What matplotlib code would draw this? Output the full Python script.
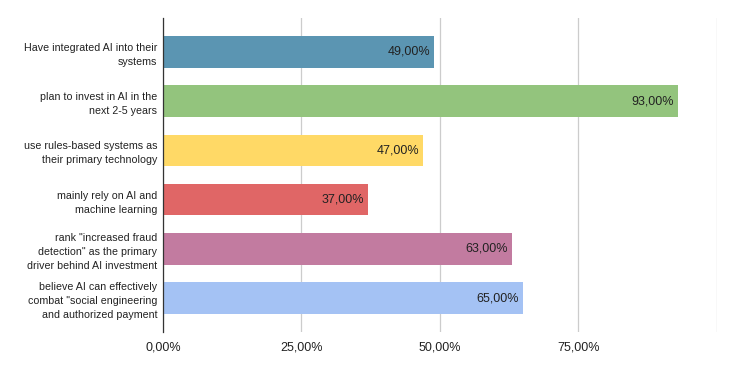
import matplotlib.pyplot as plt
from matplotlib.ticker import FixedLocator

plt.rcParams['font.family'] = ['Liberation Sans', 'DejaVu Sans']

# Survey results (percent of respondents)
categories = [
    'Have integrated AI into their\nsystems',
    'plan to invest in AI in the\nnext 2-5 years',
    'use rules-based systems as\ntheir primary technology',
    'mainly rely on AI and\nmachine learning',
    'rank "increased fraud\ndetection" as the primary\ndriver behind AI investment',
    'believe AI can effectively\ncombat "social engineering\nand authorized payment',
]
values = [49, 93, 47, 37, 63, 65]
colors = ['#5b95b2', '#93c47d', '#ffd966', '#e06666', '#c27ba0', '#a4c2f4']
tick_values = [0, 25, 50, 75, 100]
tick_labels = ['0,00%', '25,00%', '50,00%', '75,00%', '']

fig = plt.figure(figsize=(7.35, 3.71), dpi=100)
ax = fig.add_axes([163 / 735, 1 - 332 / 371, (716.5 - 163) / 735, (332 - 18) / 371])

y_pos = list(range(len(categories)))
ax.barh(y_pos, values, height=0.64, color=colors, zorder=3)

# value labels inside the bar ends
for y, v in zip(y_pos, values):
    ax.text(v - 0.7, y, f'{v},00%', ha='right', va='center',
            fontsize=9, color='#222222', zorder=4)

ax.set_xlim(0, 100)
ax.set_ylim(len(categories) - 1 + 0.69, -0.69)
ax.xaxis.set_major_locator(FixedLocator(tick_values))
ax.set_xticklabels(tick_labels, fontsize=9, color='#222222')
ax.set_yticks(y_pos)
ax.set_yticklabels(categories, fontsize=7.7, color='#222222', linespacing=1.5)
ax.tick_params(axis='both', length=0)
ax.tick_params(axis='x', pad=7)
ax.tick_params(axis='y', pad=4)

ax.grid(axis='x', color='#cccccc', linewidth=0.9, zorder=0)
for side in ['top', 'right', 'bottom']:
    ax.spines[side].set_visible(False)
ax.spines['left'].set_color('#333333')
ax.spines['left'].set_linewidth(0.9)
ax.spines['left'].set_zorder(5)

plt.savefig('out.png', dpi=100)
